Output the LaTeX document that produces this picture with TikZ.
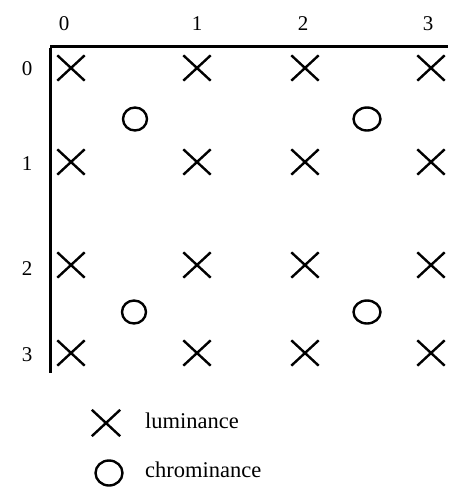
\documentclass[tikz,border=0pt]{standalone}
\usepackage{fontspec}
\setmainfont{Liberation Serif}
\usetikzlibrary{shapes.misc,shapes.geometric}
\begin{document}
\begin{tikzpicture}[x=1pt,y=-1pt,
  lum/.style={cross out,draw,minimum width=25pt,minimum height=23pt,inner sep=0pt,line width=2.4pt},
  chr/.style={ellipse,draw,minimum width=24pt,minimum height=23pt,inner sep=0pt,line width=2.4pt},
  chrw/.style={chr,minimum width=27pt},
  lbl/.style={font=\fontsize{21}{21}\selectfont,inner sep=0pt},
  txt/.style={font=\fontsize{22.5}{22.5}\selectfont,inner sep=0pt,anchor=west},
  axis/.style={line width=3pt}]
\useasboundingbox (0,0) rectangle (449,501);
% axes
\coordinate (o) at (50,46.5);
\coordinate (xe) at (448,46.5);
\coordinate (ye) at (50,373);
\draw[axis] (o) -- (xe);
\draw[axis] ([yshift=-1.5pt]o) -- (ye);
% column labels
\node[lbl] (c0) at (64,24) {0};
\node[lbl] (c1) at (197,24) {1};
\node[lbl] (c2) at (303,24) {2};
\node[lbl] (c3) at (428,24) {3};
% row labels
\node[lbl] (r0) at (27,69) {0};
\node[lbl] (r1) at (27,164) {1};
\node[lbl] (r2) at (27,269) {2};
\node[lbl] (r3) at (27,355) {3};
% luminance samples
\foreach \r/\y in {0/68,1/162,2/265,3/353}{
  \foreach \c/\x in {0/71,1/197,2/305,3/431}{
    \node[lum] (l\r\c) at (\x,\y) {};
  }
}
% chrominance samples
\node[chr] (ch00) at (135,119) {};
\node[chrw] (ch01) at (367,119) {};
\node[chr] (ch10) at (134,312) {};
\node[chrw] (ch11) at (367,312) {};
% legend
\node[lum,minimum width=26pt,minimum height=24pt] (legl) at (106,423) {};
\node[txt] (legltxt) at (145,421) {luminance};
\node[chrw,minimum height=25pt] (legc) at (109,473) {};
\node[txt] (legctxt) at (145,470) {chrominance};
\end{tikzpicture}
\end{document}
